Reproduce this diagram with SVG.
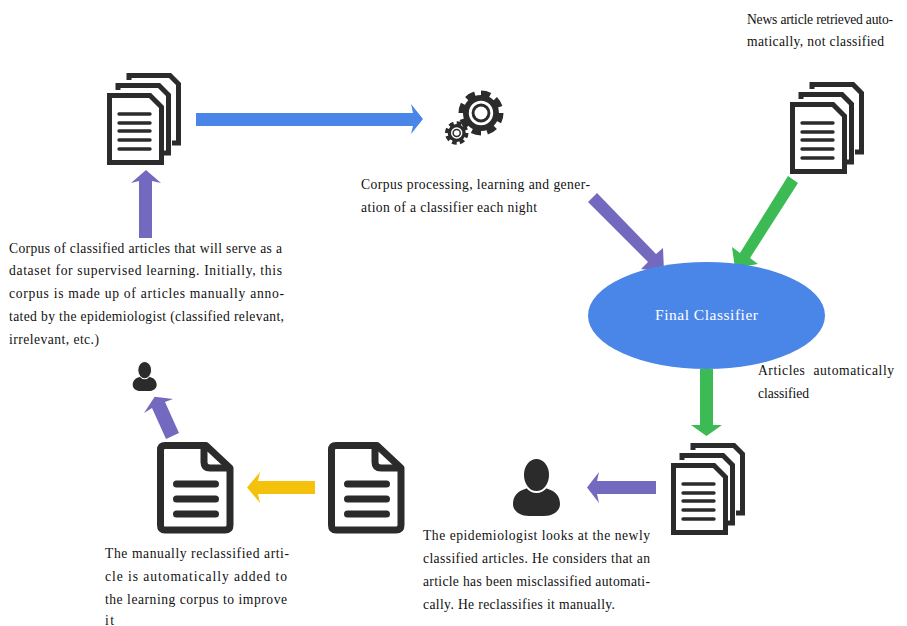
<svg xmlns="http://www.w3.org/2000/svg" width="907" height="626" viewBox="0 0 907 626" font-family="'Liberation Serif','DejaVu Serif',serif">
<style>
text{font-size:13.600px;fill:#111}
.p{fill:#736abf}.b{fill:#4a86e8}.g{fill:#3cba54}.y{fill:#f4c20d}
.ink{fill:none;stroke:#2b2b2b}
</style>
<defs>
<g id="stack">
<path class="ink" stroke-width="5" stroke-linejoin="miter" d="M22 7V2.500H63L71.500 11V70H65"/>
<path class="ink" stroke-width="5" stroke-linejoin="miter" d="M11 17V12.500H52L61.500 22V80H55"/>
<path class="ink" stroke-width="5" stroke-linejoin="miter" d="M2.500 22.500H43L54.500 34V89.500H2.500Z"/>
<path class="ink" stroke-width="3.400" stroke-linecap="round" d="M12 41H43M12 50H43M12 58H43M12 67H43M12 76H43"/>
</g>
<g id="doc">
<path class="ink" stroke-width="7" stroke-linejoin="round" d="M8 3.500H49L73 26V83Q73 88 68 88H8Q3.500 88 3.500 83V8Q3.500 3.500 8 3.500Z"/>
<path class="ink" stroke-width="7" stroke-linejoin="round" d="M47 4V20Q47 26 53 26H73"/>
<path class="ink" stroke-width="7" stroke-linecap="round" d="M19.500 42H58.500M19.500 57H58.500M19.500 72H58.500"/>
</g>
<g id="person">
<path fill="#2b2b2b" d="M0 45C0 37 5 32 12 30C15 29 16 28 17 26H30C31 28 32 29 35 30C42 32 47 37 47 45C47 52 40 57 31 57H16C7 57 0 52 0 45Z"/>
<ellipse cx="23.500" cy="16" rx="13.500" ry="17" fill="#2b2b2b" stroke="#fff" stroke-width="2"/>
</g>
</defs>
<g id="connectors">
<polygon class="b" points="196,113 413,113 411,104 423,119 411,134 413,126 196,126"/>
<polygon class="p" points="139,238 139,181 131,183 146,170 161,183 152,181 152,238"/>
<polygon class="p" points="597,193 588,202 648,262 641,269 664,272 663,248 656,254"/>
<polygon class="g" points="788,176 798,183 750,258 758,264 735,268 732,247 740,253"/>
<polygon class="g" points="700,369 713,369 713,425 722,425 706.500,436 691,425 700,425"/>
<polygon class="p" points="656,481 656,494 597,494 599,503 587,487.500 599,472 597,481"/>
<polygon class="y" points="315,481 315,494 258,494 260,503 247,487.500 260,472 258,481"/>
<polygon class="p" points="166,439 179,433 165,402 173,399 154.700,396.700 144,413 152,408"/>
</g>
<g id="stack-top-left"><use href="#stack" x="107" y="73"/></g>
<g id="gears" fill="#2b2b2b">
<circle cx="481" cy="113" r="18"/>
<circle cx="481" cy="113" r="19" fill="none" stroke="#2b2b2b" stroke-width="7" pathLength="16" stroke-dasharray="1.200 .8"/>
<circle cx="481" cy="113" r="10.800" fill="none" stroke="#fff" stroke-width="2.800"/>
<circle cx="481" cy="113" r="6.500" fill="#fff"/>
<circle cx="456.700" cy="133" r="9"/>
<circle cx="456.700" cy="133" r="10" fill="none" stroke="#2b2b2b" stroke-width="3.500" pathLength="16" stroke-dasharray="1.200 .8"/>
<circle cx="456.700" cy="133" r="5" fill="none" stroke="#fff" stroke-width="1.400"/>
<circle cx="456.700" cy="133" r="2.800" fill="#fff"/>
</g>
<g id="stack-top-right"><use href="#stack" x="790" y="82"/></g>
<g id="classifier">
<ellipse class="b" cx="706.500" cy="315.500" rx="118.500" ry="53.500"/>
<text x="655" y="320" textLength="103" style="font-size:15.500px;fill:#fff">Final Classifier</text>
</g>
<g id="stack-bottom"><use href="#stack" x="671" y="443"/></g>
<g id="person-large"><use href="#person" x="513" y="459"/></g>
<g id="doc-right"><use href="#doc" x="328" y="442"/></g>
<g id="doc-left"><use href="#doc" x="157" y="442"/></g>
<g id="person-small"><use href="#person" transform="translate(132.700 362) scale(.51)"/></g>
<g id="label-news">
<text x="747" y="24" textLength="146">News article retrieved auto-</text>
<text x="747" y="46" textLength="137">matically, not classified</text>
</g>
<g id="label-processing">
<text x="361" y="189" textLength="229">Corpus processing, learning and gener-</text>
<text x="361" y="212" textLength="176">ation of a classifier each night</text>
</g>
<g id="label-corpus">
<text x="9" y="253" textLength="273">Corpus of classified articles that will serve as a</text>
<text x="9" y="275" textLength="273">dataset for supervised learning. Initially, this</text>
<text x="9" y="298" textLength="275">corpus is made up of articles manually anno-</text>
<text x="9" y="321" textLength="275">tated by the epidemiologist (classified relevant,</text>
<text x="9" y="344" textLength="90">irrelevant, etc.)</text>
</g>
<g id="label-articles">
<text x="758" y="375" textLength="136" style="word-spacing:4px">Articles automatically</text>
<text x="758" y="398" textLength="51">classified</text>
</g>
<g id="label-epidemiologist">
<text x="423" y="540" textLength="227">The epidemiologist looks at the newly</text>
<text x="423" y="563" textLength="227">classified articles. He considers that an</text>
<text x="423" y="586" textLength="227">article has been misclassified automati-</text>
<text x="423" y="609" textLength="192">cally. He reclassifies it manually.</text>
</g>
<g id="label-reclassified">
<text x="105" y="558" textLength="184">The manually reclassified arti-</text>
<text x="105" y="581" textLength="182">cle is automatically added to</text>
<text x="105" y="604" textLength="182">the learning corpus to improve</text>
<text x="105" y="624.500" textLength="9">it</text>
</g>
</svg>
